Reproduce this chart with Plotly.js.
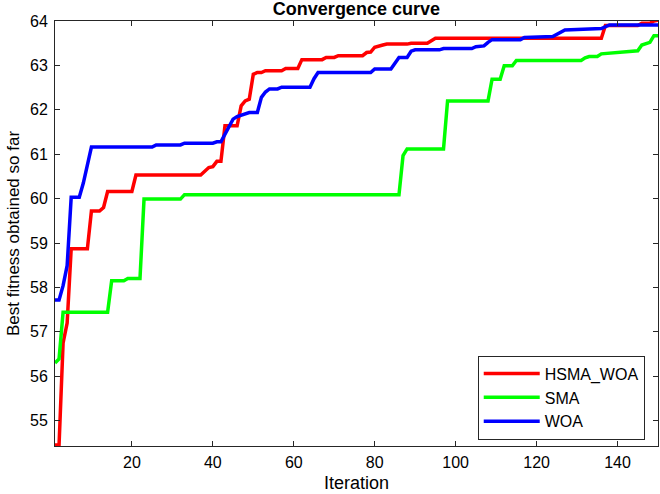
<!DOCTYPE html>
<html>
<head>
<meta charset="utf-8">
<script src="https://cdn.plot.ly/plotly-3.0.1.min.js"></script>
<style>html,body{margin:0;padding:0;background:#fff;}#chart{width:660px;height:494px;}</style>
</head>
<body>
<div id="chart"></div>
<script>
// HSMA_WOA (breakpoints: iteration, best fitness)
const hsmaIter = [1,2,3,4,5,9,10,12,13,14,20,21,37,38,39,40,41,42,43,46,47,48,49,50,51,52,53,57,58,61,62,67,68,70,71,77,78,79,80,82,83,88,89,93,94,95,136,137,145,146,148,149,150];
const hsmaVal  = [54.45,54.45,56.75,57.2,58.87,58.87,59.72,59.72,59.8,60.16,60.16,60.53,60.53,60.62,60.7,60.72,60.84,60.84,61.64,61.64,62.09,62.2,62.24,62.8,62.84,62.84,62.88,62.88,62.93,62.93,63.13,63.13,63.18,63.18,63.22,63.22,63.29,63.3,63.41,63.46,63.48,63.48,63.5,63.5,63.56,63.61,63.61,63.9,63.9,63.95,63.95,64.0,64.02];
// SMA
const smaIter = [1,2,3,14,15,18,19,22,23,32,33,86,87,88,97,98,108,109,111,112,114,115,131,132,133,135,136,140,141,145,146,147,148,149,150];
const smaVal  = [56.3,56.39,57.44,57.44,58.15,58.15,58.2,58.2,59.99,59.99,60.09,60.09,60.97,61.12,61.12,62.2,62.2,62.69,62.69,62.99,62.99,63.11,63.11,63.17,63.2,63.2,63.26,63.29,63.31,63.33,63.46,63.5,63.52,63.67,63.67];
// WOA
const woaIter = [1,2,3,4,5,7,8,9,10,25,26,32,33,40,41,42,43,44,45,46,48,49,51,52,53,54,56,57,64,65,66,79,80,84,85,86,88,89,90,96,97,104,105,107,108,109,116,117,124,125,127,136,137,138,150];
const woaVal  = [57.72,57.72,58.04,58.49,60.03,60.03,60.35,60.75,61.16,61.16,61.21,61.21,61.25,61.25,61.28,61.28,61.45,61.65,61.79,61.85,61.9,61.94,61.94,62.28,62.4,62.47,62.47,62.51,62.51,62.7,62.84,62.84,62.92,62.92,63.05,63.18,63.18,63.32,63.35,63.35,63.38,63.38,63.42,63.44,63.52,63.58,63.58,63.63,63.65,63.7,63.8,63.83,63.87,63.91,63.91];

const seriesNames = ['HSMA_WOA','SMA','WOA'];
const xTicks = [20,40,60,80,100,120,140];
const yTicks = [55,56,57,58,59,60,61,62,63,64];

const font = 'Liberation Sans, Arial, sans-serif';
const traces = [
  {x: hsmaIter, y: hsmaVal, name: seriesNames[0], mode: 'lines', line: {color: '#ff0000', width: 3.5}},
  {x: smaIter,  y: smaVal,  name: seriesNames[1], mode: 'lines', line: {color: '#00ff00', width: 3.5}},
  {x: woaIter,  y: woaVal,  name: seriesNames[2], mode: 'lines', line: {color: '#0000ff', width: 3.5}}
];
const axisCommon = {
  showline: true, linecolor: '#262626', linewidth: 1, mirror: 'ticks',
  ticks: 'inside', ticklen: 5, tickcolor: '#262626', showgrid: false, zeroline: false,
  tickfont: {family: font, size: 16, color: '#000'}
};
const layout = {
  width: 660, height: 494,
  margin: {l: 55, r: 2, t: 21, b: 48},
  paper_bgcolor: '#fff', plot_bgcolor: '#fff',
  title: {text: '<b>Convergence curve</b>', font: {family: font, size: 18, color: '#000'}, x: 0.54, xanchor: 'center', y: 0.995, yanchor: 'top'},
  xaxis: Object.assign({}, axisCommon, {range: [1, 150], tickvals: xTicks, ticktext: xTicks.map(String), ticklabelstandoff: 2,
    title: {text: 'Iteration', font: {family: font, size: 18, color: '#000'}, standoff: 6}}),
  yaxis: Object.assign({}, axisCommon, {range: [54.43, 64], tickvals: yTicks, ticktext: yTicks.map(String), ticklabelstandoff: 3,
    title: {text: 'Best fitness obtained so far', font: {family: font, size: 17, color: '#000'}, standoff: 6}}),
  legend: {x: 0.978, xanchor: 'right', y: 0.015, yanchor: 'bottom', bgcolor: '#fff', bordercolor: '#262626', borderwidth: 1,
    font: {family: font, size: 16, color: '#000'}, itemwidth: 56, tracegroupgap: 0},
  showlegend: true
};
Plotly.newPlot('chart', traces, layout, {displayModeBar: false, staticPlot: true});
</script>
</body>
</html>
